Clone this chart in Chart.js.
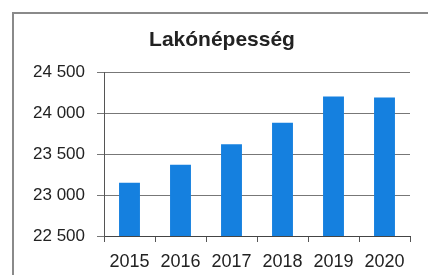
<!DOCTYPE html>
<html>
<head>
<meta charset="utf-8">
<script src="https://cdn.jsdelivr.net/npm/chart.js@4"></script>
<style>
    html, body { margin: 0; padding: 0; background: #fff; }
    #wrap { position: relative; width: 428px; height: 275px; }
    #frame {
        position: absolute; left: 12px; top: 12px; width: 430px; height: 300px;
        border-left: 2px solid #8a8a8a; border-top: 2px solid #8a8a8a;
        pointer-events: none;
    }
</style>
</head>
<body>
<div id="wrap">
    <canvas id="myChart" width="428" height="275"></canvas>
    <div id="frame"></div>
</div>
<script>
const title = 'Lakónépesség';
const years = ['2015', '2016', '2017', '2018', '2019', '2020'];
const population = [23150, 23370, 23620, 23880, 24200, 24190];
const yTicks = [22500, 23000, 23500, 24000, 24500];

// 24500 -> "24 500"
function formatNumber(v) {
    return String(v).replace(/\B(?=(\d{3})+(?!\d))/g, ' ');
}

// title sits a bit right of the canvas centre in the original
const shiftTitle = {
    id: 'shiftTitle',
    afterLayout(chart) {
        const t = chart.titleBlock;
        if (t) {
            t.left += 17;
            t.right += 17;
        }
    }
};

const ctx = document.getElementById('myChart').getContext('2d');

new Chart(ctx, {
    type: 'bar',
    data: {
        labels: years,
        datasets: [{
            data: population,
            backgroundColor: '#1580df',
            barPercentage: 0.41,
            categoryPercentage: 1
        }]
    },
    options: {
        responsive: false,
        animation: false,
        layout: { padding: { left: 0, right: 18, top: 0, bottom: 0 } },
        plugins: {
            legend: { display: false },
            tooltip: { enabled: false },
            title: {
                display: true,
                text: title,
                color: '#222',
                font: { family: 'Liberation Sans', size: 21, weight: 'bold', lineHeight: 1.2 },
                padding: { top: 28, bottom: 18.8 }
            }
        },
        scales: {
            x: {
                grid: {
                    display: true,
                    drawOnChartArea: false,
                    tickLength: 6,
                    color: '#555'
                },
                border: { color: '#444', width: 1 },
                ticks: {
                    color: '#222',
                    padding: 9,
                    font: { family: 'Liberation Sans', size: 18 }
                },
                afterFit: (scale) => { scale.height = 39; }
            },
            y: {
                min: 22500,
                max: 24500,
                afterBuildTicks: (scale) => {
                    scale.ticks = yTicks.map((v) => ({ value: v }));
                },
                grid: {
                    color: '#777',
                    tickLength: 7
                },
                border: { color: '#555', width: 1 },
                ticks: {
                    color: '#222',
                    padding: 12,
                    font: { family: 'Liberation Sans', size: 17 },
                    callback: (v) => formatNumber(v)
                },
                afterFit: (scale) => { scale.width = 104; }
            }
        }
    },
    plugins: [shiftTitle]
});
</script>
</body>
</html>
